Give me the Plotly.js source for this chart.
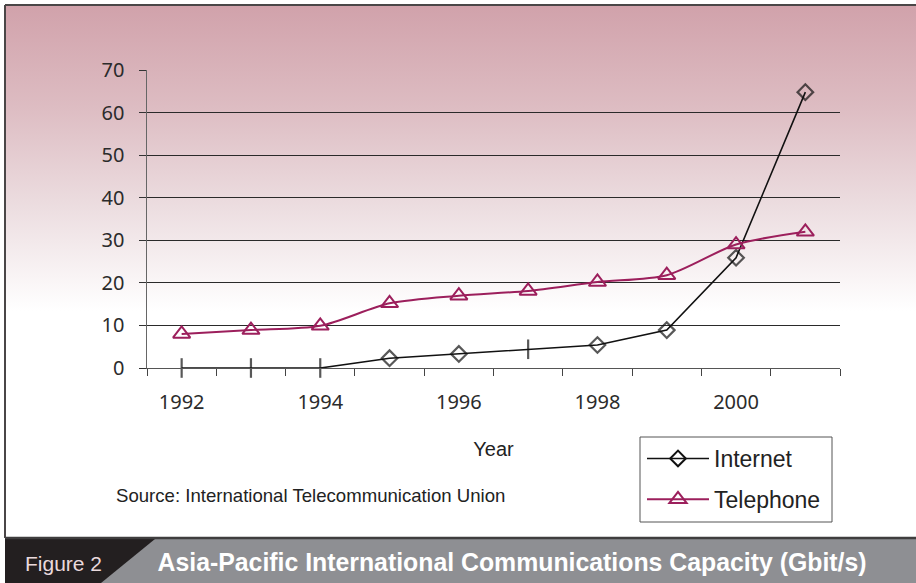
<!DOCTYPE html>
<html>
<head>
<meta charset="utf-8">
<script src="https://cdn.plot.ly/plotly-3.0.1.min.js"></script>
<style>
  html, body { margin: 0; padding: 0; background: #ffffff; }
  #chart {
    width: 916px; height: 583px;
    background-color: #ffffff;
    background-image: linear-gradient(to bottom, #d1a2ab 0px, #ddbcc2 100px, #ecdde0 200px, #ffffff 305px);
    background-repeat: no-repeat;
    background-position: 6px 6px;
    background-size: 910px 532px;
  }
</style>
</head>
<body>
<div id="chart"></div>
<script>
// ---- data ----
const years = [1992, 1993, 1994, 1995, 1996, 1997, 1998, 1999, 2000, 2001];
const internet = [0, 0, 0, 2.3, 3.3, 4.4, 5.4, 8.9, 25.9, 64.8];
const telephone = [8.0, 8.9, 9.9, 15.2, 17.0, 18.1, 20.2, 21.8, 29.0, 32.0];
const xTickVals = [1992, 1994, 1996, 1998, 2000];
const xTickText = ['1992', '1994', '1996', '1998', '2000'];
const yTickVals = [0, 10, 20, 30, 40, 50, 60, 70];

// ---- styling helpers ----
const internetSymbols = ['line-ns-open', 'line-ns-open', 'line-ns-open', 'diamond-open', 'diamond-open',
                         'line-ns-open', 'diamond-open', 'diamond-open', 'diamond-open', 'diamond-open'];
const internetSizes = internetSymbols.map(s => s === 'line-ns-open' ? 14 : 12);
const L = 147, R = 76, T = 70, B = 215, FW = 916, FH = 583;
const PW = FW - L - R, PH = FH - T - B;
const px = v => (v - L) / PW;
const py = v => (FH - B - v) / PH;

const INK = '#111111', PURPLE = '#9c1f5c';

const traces = [
  {
    x: years, y: internet, name: 'Internet', type: 'scatter', mode: 'lines+markers',
    showlegend: false, cliponaxis: false,
    line: { color: INK, width: 1.6 },
    marker: { symbol: internetSymbols, size: internetSizes, color: INK, line: { color: INK, width: 2.2 } }
  },
  {
    x: [null], y: [null], name: 'Internet', type: 'scatter', mode: 'lines+markers',
    legendgroup: 'a',
    line: { color: INK, width: 1.6 },
    marker: { symbol: 'diamond-open', size: 12, color: INK, line: { color: INK, width: 2 } }
  },
  {
    x: years, y: telephone, name: 'Telephone', type: 'scatter', mode: 'lines+markers',
    legendgroup: 'b', cliponaxis: false,
    line: { color: PURPLE, width: 2, shape: 'spline', smoothing: 0.8 },
    marker: { symbol: 'triangle-up-open', size: 15, color: PURPLE, line: { color: PURPLE, width: 2 } }
  }
];

const shapes = [
  // legend box
  { type: 'rect', xref: 'paper', yref: 'paper', x0: px(640), x1: px(832), y0: py(437), y1: py(522),
    fillcolor: '#ffffff', line: { color: '#555555', width: 1 }, layer: 'below' },
  // banner background
  { type: 'rect', xref: 'paper', yref: 'paper', x0: px(5), x1: px(916), y0: py(538), y1: py(583),
    fillcolor: '#8e8f93', line: { width: 0 }, layer: 'below' },
  // Figure label dark block
  { type: 'path', xref: 'paper', yref: 'paper',
    path: `M ${px(5)},${py(539)} L ${px(155)},${py(539)} L ${px(101)},${py(583)} L ${px(5)},${py(583)} Z`,
    fillcolor: '#231f20', line: { width: 0 }, layer: 'below' },
  // banner top line
  { type: 'line', xref: 'paper', yref: 'paper', x0: px(5), x1: px(916), y0: py(538), y1: py(538),
    line: { color: '#3f3d3e', width: 2.5 } },
  // frame top line
  { type: 'line', xref: 'paper', yref: 'paper', x0: px(5), x1: px(916), y0: py(5), y1: py(5),
    line: { color: '#4a4647', width: 2 } },
  // frame left line
  { type: 'line', xref: 'paper', yref: 'paper', x0: px(5), x1: px(5), y0: py(5), y1: py(538),
    line: { color: '#4a4647', width: 2 } }
];

const annotations = [
  { xref: 'paper', yref: 'paper', x: px(114), y: py(495), xanchor: 'left', yanchor: 'middle',
    text: 'Source: International Telecommunication Union', showarrow: false,
    font: { family: 'Liberation Sans, Arial, sans-serif', size: 18.6, color: '#222222' } },
  { xref: 'paper', yref: 'paper', x: px(23), y: py(563), xanchor: 'left', yanchor: 'middle',
    text: 'Figure 2', showarrow: false,
    font: { family: 'Liberation Sans, Arial, sans-serif', size: 21, color: '#ead9dc' } },
  { xref: 'paper', yref: 'paper', x: px(511.5), y: py(562), xanchor: 'center', yanchor: 'middle',
    text: '<b>Asia-Pacific International Communications Capacity (Gbit/s)</b>', showarrow: false,
    font: { family: 'Liberation Sans, Arial, sans-serif', size: 25, color: '#ffffff' } }
];

const layout = {
  width: FW, height: FH,
  margin: { l: L, r: R, t: T, b: B, pad: 0 },
  paper_bgcolor: 'rgba(0,0,0,0)',
  plot_bgcolor: 'rgba(0,0,0,0)',
  showlegend: true,
  legend: {
    x: px(642), y: py(437), xanchor: 'left', yanchor: 'top',
    bgcolor: 'rgba(0,0,0,0)', borderwidth: 0,
    font: { family: 'Liberation Sans, Arial, sans-serif', size: 23, color: '#222222' },
    itemwidth: 62, traceorder: 'grouped', tracegroupgap: 8
  },
  xaxis: {
    type: 'linear', range: [1991.5, 2001.5],
    tickmode: 'array', tickvals: xTickVals, ticktext: xTickText,
    ticks: 'outside', ticklen: 0, tickcolor: '#444444',
    ticklabelstandoff: 16,
    tickfont: { family: 'Noto Sans, Open Sans, sans-serif', size: 20, color: '#2b2b2b' },
    minor: { tick0: 1991.5, dtick: 1, ticks: 'outside', ticklen: 7, tickcolor: '#444444', tickwidth: 1, showgrid: false },
    showgrid: false, zeroline: false,
    showline: true, linecolor: '#555555', linewidth: 1,
    title: { text: 'Year', standoff: 27,
             font: { family: 'Liberation Sans, Arial, sans-serif', size: 20, color: '#222222' } }
  },
  yaxis: {
    range: [0, 70], tickmode: 'array', tickvals: yTickVals,
    ticks: 'outside', ticklen: 7, tickcolor: '#333333', tickwidth: 1,
    ticklabelstandoff: 10,
    tickfont: { family: 'Noto Sans, Open Sans, sans-serif', size: 20, color: '#2b2b2b' },
    showgrid: true, gridcolor: '#2a2a2a', gridwidth: 1,
    zeroline: false,
    showline: true, linecolor: '#666666', linewidth: 1.5
  },
  shapes: shapes,
  annotations: annotations
};

Plotly.newPlot('chart', traces, layout, { displayModeBar: false, staticPlot: true }).then(() => {
  // condense the banner title to the reference's narrow width
  const texts = document.querySelectorAll('#chart .annotation-text');
  texts.forEach(t => {
    if (t.textContent.indexOf('Asia-Pacific') === 0) {
      t.setAttribute('textLength', '709');
      t.setAttribute('lengthAdjust', 'spacingAndGlyphs');
    }
  });
});
</script>
</body>
</html>
